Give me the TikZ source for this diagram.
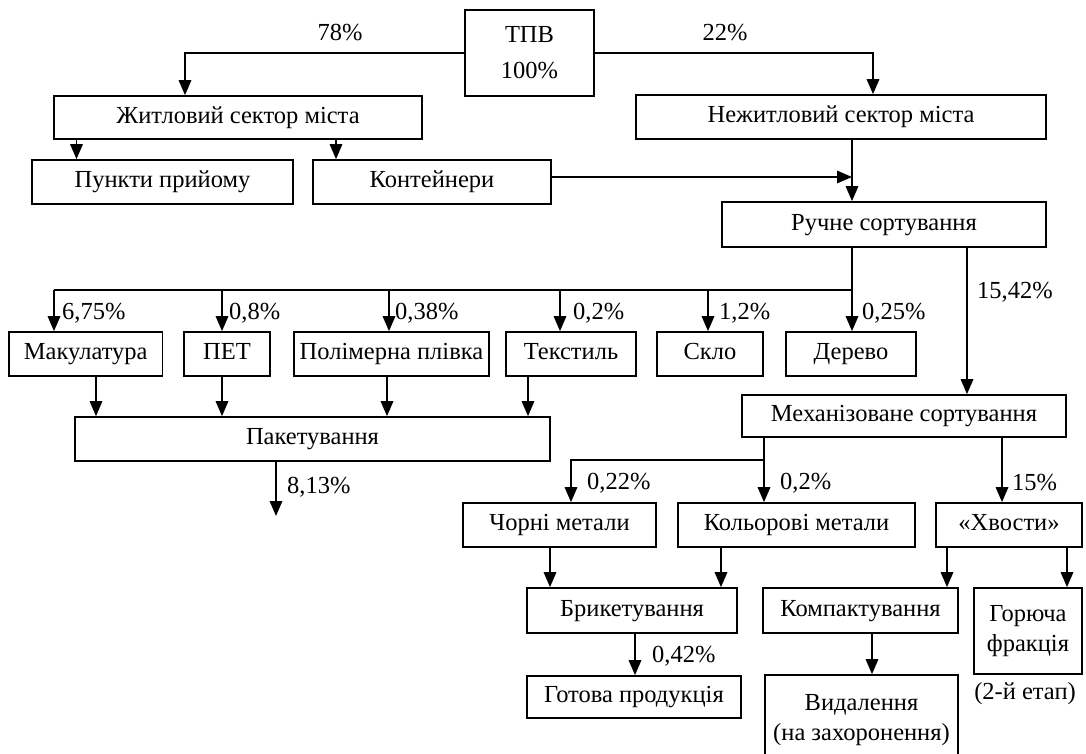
\documentclass[tikz,border=0pt]{standalone}
\usepackage{fontspec}
\setmainfont{Liberation Serif}
\usetikzlibrary{arrows.meta}
\begin{document}
\begin{tikzpicture}[x=1pt,y=-1pt,
  box/.style={draw, line width=1.7pt, inner sep=0pt, align=center, font=\fontsize{24.5}{30}\selectfont},
  one/.style={text height=17.5pt, text depth=6pt},
  lbl/.style={inner sep=0pt, anchor=west, font=\fontsize{24.5}{30}\selectfont},
  clbl/.style={inner sep=0pt, font=\fontsize{24.5}{30}\selectfont},
  ln/.style={line width=1.7pt},
  arr/.style={line width=1.7pt, -{Triangle[length=15pt,width=12.5pt]}}]
\useasboundingbox[fill=white] (0,0) rectangle (1086,753);

% boxes
\node[box, minimum width=129pt, minimum height=86pt] (tpv) at (529.5,53) {ТПВ\\[6pt]100\%};
\node[box, one, minimum width=368pt, minimum height=43pt] (zhyt) at (238,117.5) {Житловий сектор міста};
\node[box, one, minimum width=410pt, minimum height=44pt] (nezh) at (841,117) {Нежитловий сектор міста};
\node[box, one, minimum width=261pt, minimum height=44pt] (punkty) at (162.5,182) {Пункти прийому};
\node[box, one, minimum width=238pt, minimum height=44pt] (kont) at (432,182) {Контейнери};
\node[box, one, minimum width=324pt, minimum height=45pt] (ruchne) at (884,224.5) {Ручне сортування};

\node[box, one, minimum width=153.5pt, minimum height=44pt] (makul) at (85.75,354) {Макулатура};
\node[box, one, minimum width=86pt, minimum height=44pt] (pet) at (227,354) {ПЕТ};
\node[box, one, minimum width=195pt, minimum height=44pt] (polim) at (391.5,354) {Полімерна плівка};
\node[box, one, minimum width=130pt, minimum height=44pt] (tekst) at (571,354) {Текстиль};
\node[box, one, minimum width=106pt, minimum height=44pt] (sklo) at (710,354) {Скло};
\node[box, one, minimum width=130pt, minimum height=44pt] (derevo) at (851,354) {Дерево};

\node[box, one, minimum width=475pt, minimum height=44pt] (paket) at (312.5,439) {Пакетування};
\node[box, one, minimum width=324pt, minimum height=42pt] (mekh) at (904,416) {Механізоване сортування};

\node[box, one, minimum width=193pt, minimum height=44pt] (chorni) at (559.5,525) {Чорні метали};
\node[box, one, minimum width=237pt, minimum height=44pt] (kolor) at (796.5,525) {Кольорові метали};
\node[box, one, minimum width=145.5pt, minimum height=44pt] (khvosty) at (1009,525) {«Хвости»};

\node[box, one, minimum width=210pt, minimum height=45pt] (bryk) at (632,610.5) {Брикетування};
\node[box, one, minimum width=195pt, minimum height=45pt] (kompakt) at (860.5,610.5) {Компактування};
\node[box, minimum width=108pt, minimum height=86pt] (horyucha) at (1028,631) {Горюча\\фракція};
\node[box, one, minimum width=214pt, minimum height=42pt] (hotova) at (634,697) {Готова продукція};
\node[box, minimum width=193pt, minimum height=90pt] (vydal) at (861.5,720) {Видалення\\(на захоронення)};
\node[clbl] (etap) at (1025,694) {(2-й етап)};

% helper coordinates
\coordinate (x185) at (185,0);
\coordinate (x873) at (873,0);
\coordinate (x76) at (76.5,0);
\coordinate (x336) at (336,0);
\coordinate (x852) at (852,0);
\coordinate (x967) at (967,0);
\coordinate (x54) at (54,0);
\coordinate (x222) at (222,0);
\coordinate (x389) at (389,0);
\coordinate (x560) at (560,0);
\coordinate (x708) at (708,0);
\coordinate (x96) at (96,0);
\coordinate (x387) at (387,0);
\coordinate (x528) at (528,0);
\coordinate (x276) at (276,0);
\coordinate (x764) at (764,0);
\coordinate (x571) at (571,0);
\coordinate (x1002) at (1002,0);
\coordinate (x550) at (550,0);
\coordinate (x721) at (721,0);
\coordinate (x947) at (947,0);
\coordinate (x1067) at (1067,0);
\coordinate (x635) at (635,0);
\coordinate (x872) at (872,0);
\coordinate (y177) at (0,177);
\coordinate (y290) at (0,290);
\coordinate (y460) at (0,460);
\coordinate (pend) at (276,516);

% connectors
\draw[arr] (tpv.west) -| (zhyt.north -| x185);
\draw[arr] (tpv.east) -| (nezh.north -| x873);
\draw[arr] (zhyt.south -| x76) -- (punkty.north -| x76);
\draw[arr] (zhyt.south -| x336) -- (kont.north -| x336);
\draw[arr] (kont.east |- y177) -- (x852 |- y177);
\draw[arr] (nezh.south -| x852) -- (ruchne.north -| x852);

\draw[arr] (ruchne.south -| x852) -- (derevo.north -| x852);
\draw[ln] (x54 |- y290) -- (x852 |- y290);
\draw[arr] (x54 |- y290) -- (makul.north -| x54);
\draw[arr] (x222 |- y290) -- (pet.north -| x222);
\draw[arr] (x389 |- y290) -- (polim.north -| x389);
\draw[arr] (x560 |- y290) -- (tekst.north -| x560);
\draw[arr] (x708 |- y290) -- (sklo.north -| x708);
\draw[arr] (ruchne.south -| x967) -- (mekh.north -| x967);

\draw[arr] (makul.south -| x96) -- (paket.north -| x96);
\draw[arr] (pet.south -| x222) -- (paket.north -| x222);
\draw[arr] (polim.south -| x387) -- (paket.north -| x387);
\draw[arr] (tekst.south -| x528) -- (paket.north -| x528);
\draw[arr] (paket.south -| x276) -- (pend);

\draw[arr] (mekh.south -| x764) -- (kolor.north -| x764);
\draw[arr] (x764 |- y460) -| (chorni.north -| x571);
\draw[arr] (mekh.south -| x1002) -- (khvosty.north -| x1002);

\draw[arr] (chorni.south -| x550) -- (bryk.north -| x550);
\draw[arr] (kolor.south -| x721) -- (bryk.north -| x721);
\draw[arr] (khvosty.south -| x947) -- (kompakt.north -| x947);
\draw[arr] (khvosty.south -| x1067) -- (horyucha.north -| x1067);
\draw[arr] (bryk.south -| x635) -- (hotova.north -| x635);
\draw[arr] (kompakt.south -| x872) -- (vydal.north -| x872);

% labels
\node[clbl] (l78) at (340,33) {78\%};
\node[clbl] (l22) at (725,33) {22\%};
\node[lbl] (l675) at (62,313) {6,75\%};
\node[lbl] (l08) at (229,313) {0,8\%};
\node[lbl] (l038) at (395,313) {0,38\%};
\node[lbl] (l02a) at (573,313) {0,2\%};
\node[lbl] (l12) at (719,313) {1,2\%};
\node[lbl] (l025) at (862,313) {0,25\%};
\node[lbl] (l1542) at (977,292) {15,42\%};
\node[lbl] (l813) at (287,487) {8,13\%};
\node[lbl] (l022) at (587,483) {0,22\%};
\node[lbl] (l02b) at (780,483) {0,2\%};
\node[lbl] (l15) at (1012,483) {15\%};
\node[lbl] (l042) at (652,656) {0,42\%};
\end{tikzpicture}
\end{document}
